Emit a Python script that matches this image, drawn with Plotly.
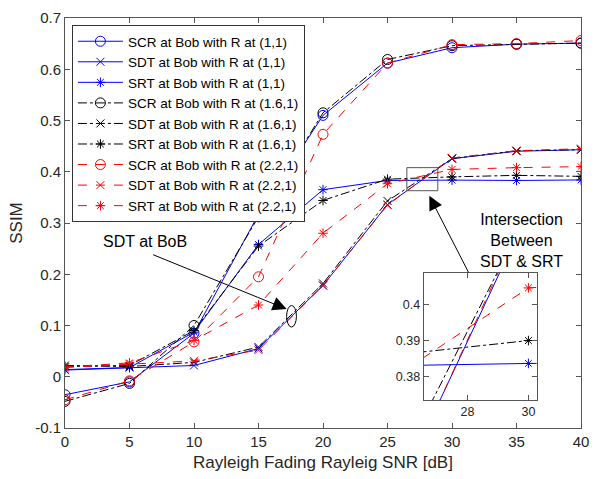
import plotly.graph_objects as go

# SNR sweep (dB)
snr = [0, 5, 10, 15, 20, 25, 30, 35, 40]

# SSIM at Bob, relay at (1,1)
scr_r11 = [-0.035, -0.010, 0.085, 0.317, 0.510, 0.612, 0.642, 0.649, 0.651]
sdt_r11 = [0.013, 0.018, 0.022, 0.055, 0.178, 0.336, 0.4256, 0.440, 0.443]
srt_r11 = [0.014, 0.018, 0.087, 0.258, 0.365, 0.383, 0.3837, 0.383, 0.384]

# SSIM at Bob, relay at (1.6,1)
scr_r16 = [-0.048, -0.013, 0.100, 0.312, 0.515, 0.619, 0.646, 0.649, 0.651]
sdt_r16 = [0.022, 0.020, 0.028, 0.058, 0.182, 0.343, 0.4256, 0.441, 0.443]
srt_r16 = [0.020, 0.022, 0.090, 0.255, 0.344, 0.3855, 0.390, 0.393, 0.391]

# SSIM at Bob, relay at (2.2,1)
scr_r22 = [-0.045, -0.008, 0.068, 0.195, 0.473, 0.612, 0.648, 0.650, 0.656]
sdt_r22 = [0.018, 0.025, 0.031, 0.052, 0.178, 0.335, 0.427, 0.441, 0.445]
srt_r22 = [0.019, 0.027, 0.071, 0.140, 0.280, 0.3766, 0.4045, 0.408, 0.410]

x_ticks = [0, 5, 10, 15, 20, 25, 30, 35, 40]
y_ticks = [-0.1, 0, 0.1, 0.2, 0.3, 0.4, 0.5, 0.6, 0.7]
y_tick_text = ["-0.1", "0", "0.1", "0.2", "0.3", "0.4", "0.5", "0.6", "0.7"]
inset_x_ticks = [28, 30]
inset_y_ticks = [0.38, 0.39, 0.4]
inset_y_text = ["0.38", "0.39", "0.4"]

FONT = "Liberation Sans, Arial, sans-serif"
AX = "#262626"

series = [
    ("SCR at Bob with R at (1,1)", scr_r11, "blue", "solid", "circle-open"),
    ("SDT at Bob with R at (1,1)", sdt_r11, "blue", "solid", "x-thin-open"),
    ("SRT at Bob with R at (1,1)", srt_r11, "blue", "solid", "asterisk-open"),
    ("SCR at Bob with R at (1.6,1)", scr_r16, "black", "dashdot", "circle-open"),
    ("SDT at Bob with R at (1.6,1)", sdt_r16, "black", "dashdot", "x-thin-open"),
    ("SRT at Bob with R at (1.6,1)", srt_r16, "black", "dashdot", "asterisk-open"),
    ("SCR at Bob with R at (2.2,1)", scr_r22, "red", "dash", "circle-open"),
    ("SDT at Bob with R at (2.2,1)", sdt_r22, "red", "dash", "x-thin-open"),
    ("SRT at Bob with R at (2.2,1)", srt_r22, "red", "dash", "asterisk-open"),
]

fig = go.Figure()

for name, vals, color, dash, sym in series:
    size = 10 if sym == "circle-open" else 8
    for axx, axy, show in (("x", "y", True), ("x2", "y2", False)):
        fig.add_trace(go.Scatter(
            x=snr, y=vals, name=name, mode="lines+markers",
            xaxis=axx, yaxis=axy, showlegend=show,
            line=dict(color=color, width=1, dash=dash),
            marker=dict(symbol=sym, size=size, color=color,
                        line=dict(color=color, width=1)),
        ))

axis_common = dict(
    showgrid=False, zeroline=False, showline=True, linecolor="#555555",
    linewidth=1, mirror="ticks", ticks="inside", ticklen=5, tickcolor="#555555",
    tickfont=dict(family=FONT, size=15, color=AX),
)
inset_axis = {**axis_common, "tickfont": dict(family=FONT, size=12.5, color=AX)}

fig.update_layout(
    width=598, height=479,
    margin=dict(l=65, r=9, t=15, b=51),
    paper_bgcolor="white", plot_bgcolor="white",
    font=dict(family=FONT, color=AX),
    xaxis=dict(range=[0, 40], tickvals=x_ticks, domain=[0, 1],
               title=dict(text="Rayleigh Fading Rayleig SNR [dB]",
                          font=dict(family=FONT, size=17, color=AX), standoff=7),
               **axis_common),
    yaxis=dict(range=[-0.1, 0.7], tickvals=y_ticks, ticktext=y_tick_text, domain=[0, 1],
               title=dict(text="SSIM", font=dict(family=FONT, size=17, color=AX),
                          standoff=8),
               **axis_common),
    xaxis2=dict(range=[26.56, 30.27], tickvals=inset_x_ticks, domain=[0.695, 0.914],
                anchor="y2", **inset_axis),
    yaxis2=dict(range=[0.3736, 0.4086], tickvals=inset_y_ticks, ticktext=inset_y_text,
                domain=[0.068, 0.378], anchor="x2", **inset_axis),
    legend=dict(
        x=0.0134, y=0.983, xanchor="left", yanchor="top",
        bgcolor="white", bordercolor="#333333", borderwidth=1,
        font=dict(family=FONT, size=13.5, color="black"),
        itemwidth=45, tracegroupgap=0,
    ),
    showlegend=True,
)

# white backing for the zoomed inset
fig.add_shape(type="rect", xref="x2 domain", yref="y2 domain", x0=0, x1=1, y0=0, y1=1,
              fillcolor="white", line=dict(width=0), layer="below")

# rectangle marking the zoomed region
fig.add_shape(type="rect", xref="x", yref="y", x0=26.5, x1=28.9, y0=0.363, y1=0.408,
              line=dict(color="#555555", width=1))

# ellipse around the SDT curves
fig.add_shape(type="circle", xref="x", yref="y", x0=17.18, x1=17.94, y0=0.097, y1=0.139,
              line=dict(color="black", width=1))

fig.add_annotation(x=6.18, y=0.264, xref="x", yref="y", text="SDT at BoB",
                   showarrow=False, font=dict(family=FONT, size=16, color="black"))
fig.add_annotation(x=17.18, y=0.132, xref="x", yref="y", text="", showarrow=True,
                   ax=-135, ay=-55, arrowhead=2, arrowsize=2.8, arrowwidth=1,
                   arrowcolor="black")

fig.add_annotation(x=35.4, y=0.2656, xref="x", yref="y",
                   text="Intersection<br>Between<br>SDT & SRT",
                   showarrow=False, font=dict(family=FONT, size=16, color="black"))
fig.add_annotation(x=28.24, y=0.353, xref="x", yref="y", text="", showarrow=True,
                   ax=40, ay=78, arrowhead=2, arrowsize=2.8, arrowwidth=1,
                   arrowcolor="black")

fig.write_html("out.html")
